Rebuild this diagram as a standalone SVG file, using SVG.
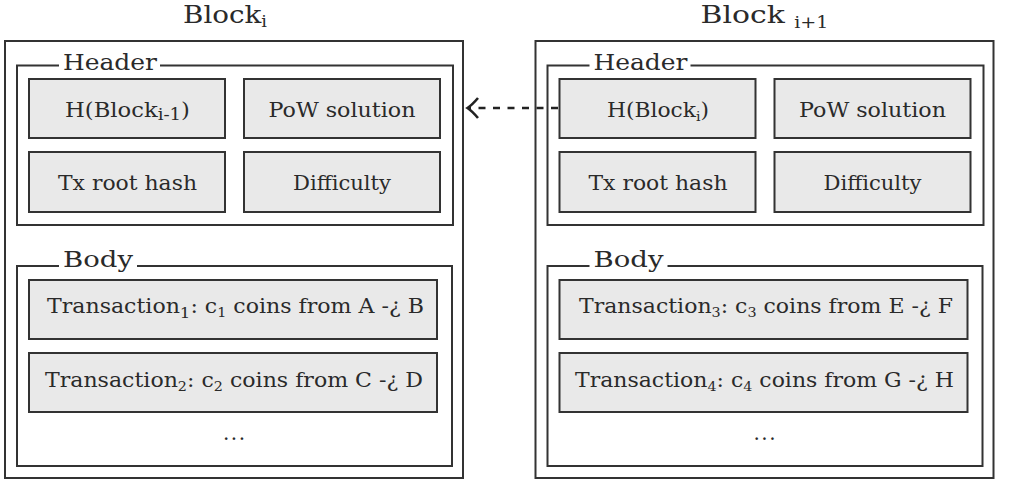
<svg xmlns="http://www.w3.org/2000/svg" width="1009" height="484" viewBox="0 0 1009 484">
  <style>
    .box { fill: none; stroke: #333; stroke-width: 2; }
    .cell { fill: #e9e9e9; stroke: #333; stroke-width: 2; }
    .lbl-bg { fill: #ffffff; stroke: none; }
    text { font-family: "DejaVu Serif", "Liberation Serif", serif; fill: #2a2a2a; }
    .title { font-size: 25px; text-anchor: middle; }
    .sect { font-size: 23px; }
    .ct { font-size: 20px; text-anchor: middle; }
    .conn { stroke: #222; stroke-width: 2.6; fill: none; }
  </style>

  <g id="block-i">
    <text class="title" x="225" y="23" textLength="84" lengthAdjust="spacingAndGlyphs">Block<tspan font-size="16" dy="4">i</tspan></text>
    <rect class="box" x="5" y="41" width="458" height="437"/>
    <g id="header-i">
      <rect class="box" x="17" y="65.5" width="436" height="159.5"/>
      <rect class="lbl-bg" x="59" y="55" width="101" height="14"/>
      <text class="sect" x="63" y="70" textLength="94" lengthAdjust="spacingAndGlyphs">Header</text>
      <rect class="cell" x="29" y="79" width="196" height="59"/>
      <text class="ct" x="127.5" y="117" textLength="125" lengthAdjust="spacingAndGlyphs">H(Block<tspan font-size="16" dy="3">i-1</tspan><tspan dy="-3">)</tspan></text>
      <rect class="cell" x="244" y="79" width="196" height="59"/>
      <text class="ct" x="342" y="117" textLength="147" lengthAdjust="spacingAndGlyphs">PoW solution</text>
      <rect class="cell" x="29" y="152" width="196" height="60"/>
      <text class="ct" x="127.5" y="190" textLength="139" lengthAdjust="spacingAndGlyphs">Tx root hash</text>
      <rect class="cell" x="244" y="152" width="196" height="60"/>
      <text class="ct" x="342" y="190" textLength="98" lengthAdjust="spacingAndGlyphs">Difficulty</text>
    </g>
    <g id="body-i">
      <rect class="box" x="17" y="266" width="435" height="200"/>
      <rect class="lbl-bg" x="59" y="255" width="78" height="12"/>
      <text class="sect" x="63" y="267" textLength="70" lengthAdjust="spacingAndGlyphs">Body</text>
      <rect class="cell" x="29" y="280" width="408" height="59"/>
      <text class="ct" x="235.5" y="313" textLength="377" lengthAdjust="spacingAndGlyphs">Transaction<tspan font-size="15" dy="5">1</tspan><tspan dy="-5">: c</tspan><tspan font-size="13" dy="4">1</tspan><tspan dy="-4"> coins from A -¿ B</tspan></text>
      <rect class="cell" x="29" y="353" width="408" height="59"/>
      <text class="ct" x="234" y="387" textLength="378" lengthAdjust="spacingAndGlyphs">Transaction<tspan font-size="13" dy="4">2</tspan><tspan dy="-4">: c</tspan><tspan font-size="13" dy="4">2</tspan><tspan dy="-4"> coins from C -¿ D</tspan></text>
      <text class="ct" x="234" y="440" textLength="22" lengthAdjust="spacing">...</text>
    </g>
  </g>

  <g id="block-i1" transform="translate(530.5,0)">
    <text class="title" x="234" y="23" textLength="128" lengthAdjust="spacingAndGlyphs">Block <tspan font-size="16" dy="5">i+1</tspan></text>
    <rect class="box" x="5" y="41" width="458" height="437"/>
    <g id="header-i1">
      <rect class="box" x="17" y="65.5" width="436" height="159.5"/>
      <rect class="lbl-bg" x="59" y="55" width="101" height="14"/>
      <text class="sect" x="63" y="70" textLength="94" lengthAdjust="spacingAndGlyphs">Header</text>
      <rect class="cell" x="29" y="79" width="196" height="59"/>
      <text class="ct" x="127.5" y="117" textLength="102" lengthAdjust="spacingAndGlyphs">H(Block<tspan font-size="13" dy="4">i</tspan><tspan dy="-4">)</tspan></text>
      <rect class="cell" x="244" y="79" width="196" height="59"/>
      <text class="ct" x="342" y="117" textLength="147" lengthAdjust="spacingAndGlyphs">PoW solution</text>
      <rect class="cell" x="29" y="152" width="196" height="60"/>
      <text class="ct" x="127.5" y="190" textLength="139" lengthAdjust="spacingAndGlyphs">Tx root hash</text>
      <rect class="cell" x="244" y="152" width="196" height="60"/>
      <text class="ct" x="342" y="190" textLength="98" lengthAdjust="spacingAndGlyphs">Difficulty</text>
    </g>
    <g id="body-i1">
      <rect class="box" x="17" y="266" width="435" height="200"/>
      <rect class="lbl-bg" x="59" y="255" width="78" height="12"/>
      <text class="sect" x="63" y="267" textLength="70" lengthAdjust="spacingAndGlyphs">Body</text>
      <rect class="cell" x="29" y="280" width="408" height="59"/>
      <text class="ct" x="235.5" y="313" textLength="374" lengthAdjust="spacingAndGlyphs">Transaction<tspan font-size="13" dy="4">3</tspan><tspan dy="-4">: c</tspan><tspan font-size="13" dy="4">3</tspan><tspan dy="-4"> coins from E -¿ F</tspan></text>
      <rect class="cell" x="29" y="353" width="408" height="59"/>
      <text class="ct" x="234" y="387" textLength="379" lengthAdjust="spacingAndGlyphs">Transaction<tspan font-size="13" dy="4">4</tspan><tspan dy="-4">: c</tspan><tspan font-size="13" dy="4">4</tspan><tspan dy="-4"> coins from G -¿ H</tspan></text>
      <text class="ct" x="234" y="440" textLength="22" lengthAdjust="spacing">...</text>
    </g>
  </g>

  <g id="connectors">
    <line class="conn" x1="558" y1="108" x2="469" y2="108" stroke-dasharray="7 7.5"/>
    <path class="conn" d="M478,98 Q472,105 467.5,108 Q472,111 478,118"/>
  </g>
</svg>
